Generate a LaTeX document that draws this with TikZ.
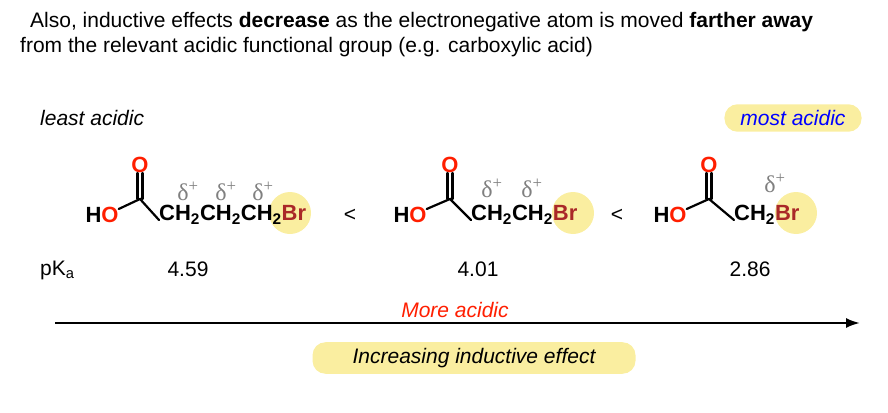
\documentclass[tikz,border=0pt]{standalone}
\usepackage{fontspec}
\setmainfont{Liberation Sans}
\newfontfamily\deltafont{Liberation Serif}
\usetikzlibrary{positioning, arrows.meta}
\definecolor{hilite}{RGB}{250,238,160}
\definecolor{oxred}{RGB}{255,30,0}
\definecolor{brred}{RGB}{170,40,40}
\begin{document}
\begin{tikzpicture}[x=1pt, y=-1pt,
  font=\fontsize{21}{25}\selectfont,
  every node/.style={inner sep=0pt},
  atom/.style={font=\fontsize{22}{25}\selectfont\bfseries},
  delta/.style={text=gray, font=\deltafont\fontsize{24}{25}\selectfont},
  bond/.style={line width=2.2pt, line cap=round},
  halo/.style={circle, fill=hilite, minimum size=42pt},
  pill/.style={rounded corners=13pt, fill=hilite, inner xsep=16pt, inner ysep=6pt}]
\useasboundingbox (0,0) rectangle (888,412);

% heading
\node[anchor=west] (head1) at (30,22) {Also, inductive effects \textbf{decrease} as the electronegative atom is moved \textbf{farther away}};
\node[anchor=west] (head2) at (20,47) {from the relevant acidic functional group (e.g. carboxylic acid)};

% labels
\node[anchor=west, font=\itshape\fontsize{21}{25}\selectfont] (least) at (40,118) {least acidic};
\node[pill, font=\itshape\fontsize{21}{25}\selectfont, text=blue] (most) at (793,118) {most acidic};

% molecule 1
\node[halo] (br1h) at (290,213) {};
\node[atom] (ho1) at (102,215) {H\textcolor{oxred}{O}};
\node[atom, text=oxred] (o1) at (140,165) {O};
\coordinate (c1) at (140,199);
\node[atom, anchor=west] (chain1) at (159,215) {CH\textsubscript{2}CH\textsubscript{2}CH\textsubscript{2}\textcolor{brred}{Br}};
\draw[bond] ([yshift=6pt]ho1.east) -- (c1) -- ([yshift=-5pt]chain1.west);
\draw[bond] ([xshift=-2.5pt]c1) -- ([xshift=-2.5pt]o1.south);
\draw[bond] ([xshift=2.5pt]c1) -- ([xshift=2.5pt]o1.south);
\foreach \x in {188,226,263}
  \node[delta] at (\x,191) {δ\textsuperscript{+}};
\node (lt1) at (350,215) {<};

% molecule 2
\node[halo] (br2h) at (573,213) {};
\node[atom] (ho2) at (410,215) {H\textcolor{oxred}{O}};
\node[atom, text=oxred] (o2) at (450,165) {O};
\coordinate (c2) at (450,199);
\node[atom, anchor=west] (chain2) at (471,215) {CH\textsubscript{2}CH\textsubscript{2}\textcolor{brred}{Br}};
\draw[bond] ([yshift=6pt]ho2.east) -- (c2) -- ([yshift=-5pt]chain2.west);
\draw[bond] ([xshift=-2.5pt]c2) -- ([xshift=-2.5pt]o2.south);
\draw[bond] ([xshift=2.5pt]c2) -- ([xshift=2.5pt]o2.south);
\foreach \x in {492,532}
  \node[delta] at (\x,188) {δ\textsuperscript{+}};
\node (lt2) at (617,215) {<};

% molecule 3
\node[halo] (br3h) at (796,213) {};
\node[atom] (ho3) at (670,215) {H\textcolor{oxred}{O}};
\node[atom, text=oxred] (o3) at (709,165) {O};
\coordinate (c3) at (709,199);
\node[atom, anchor=west] (chain3) at (734,215) {CH\textsubscript{2}\textcolor{brred}{Br}};
\draw[bond] ([yshift=6pt]ho3.east) -- (c3) -- ([yshift=-5pt]chain3.west);
\draw[bond] ([xshift=-2.5pt]c3) -- ([xshift=-2.5pt]o3.south);
\draw[bond] ([xshift=2.5pt]c3) -- ([xshift=2.5pt]o3.south);
\node[delta] at (775,183) {δ\textsuperscript{+}};

% pKa values
\node[anchor=west] (pka) at (40,270) {pK\textsubscript{a}};
\node (v1) at (188,269) {4.59};
\node (v2) at (478,269) {4.01};
\node (v3) at (750,269) {2.86};

% arrow
\coordinate (arrs) at (55,323);
\coordinate (arre) at (860,323);
\draw[line width=2.2pt, -{Latex[length=14pt, width=10pt]}] (arrs) -- (arre);
\node[text=oxred, font=\itshape\fontsize{21}{25}\selectfont] (more) at (455,310) {More acidic};
\node[pill, minimum width=323pt, minimum height=30pt, font=\itshape\fontsize{21}{25}\selectfont] (incr) at (474,358) {Increasing inductive effect};
\end{tikzpicture}
\end{document}
